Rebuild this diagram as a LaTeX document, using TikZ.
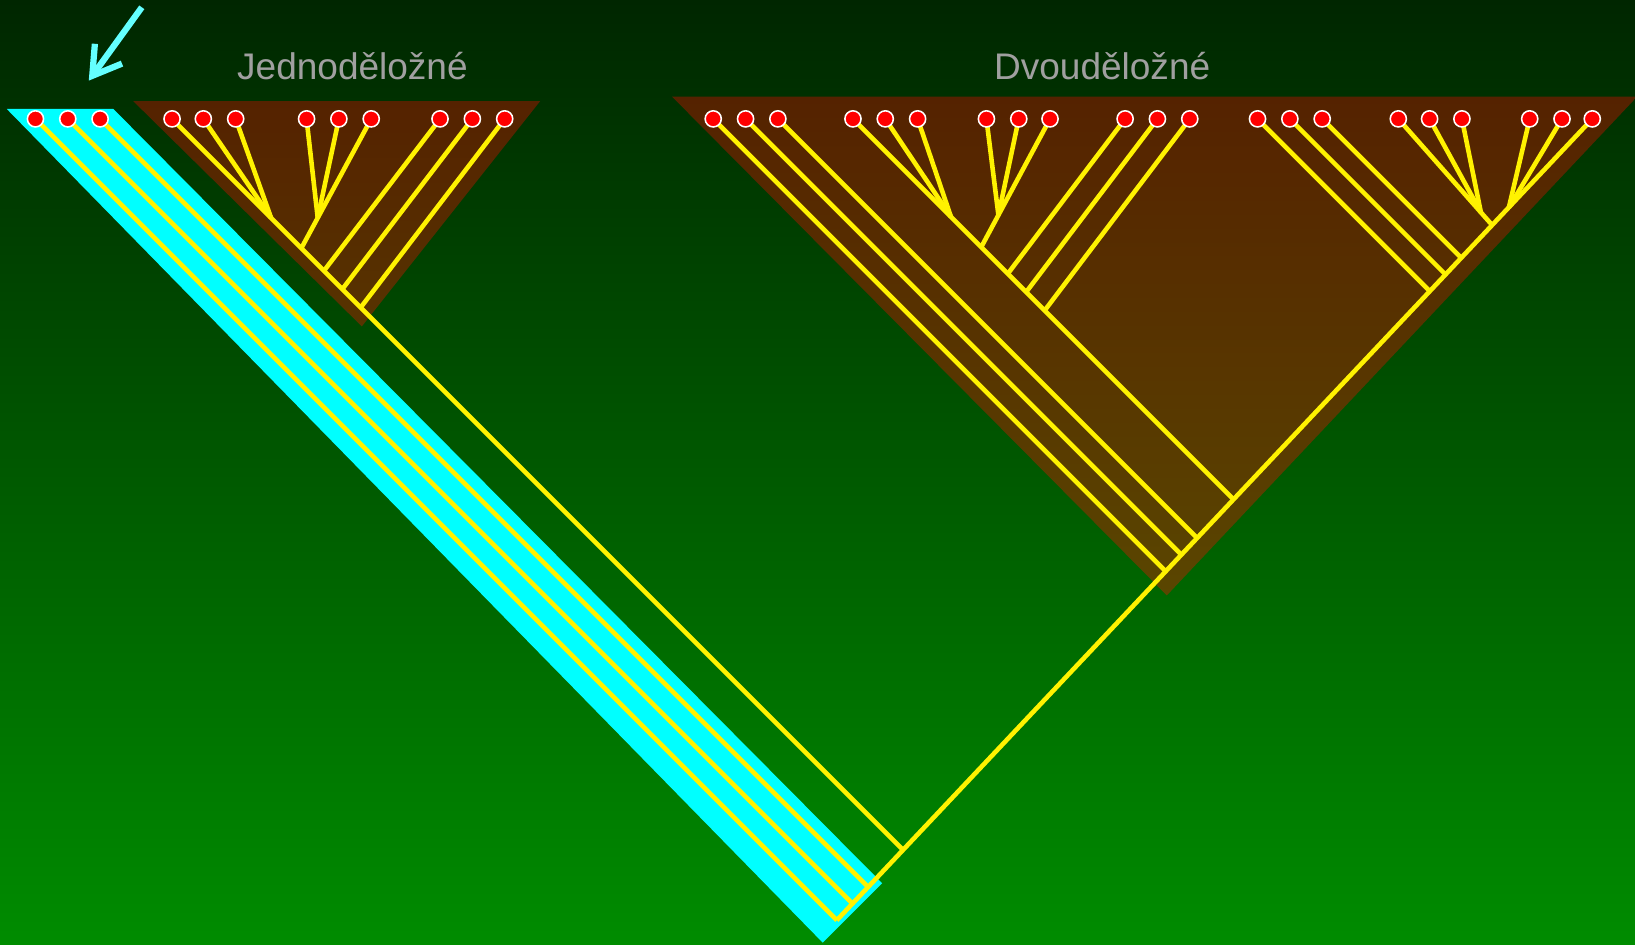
\documentclass[tikz,border=0pt]{standalone}
\usepackage{fontspec}
\setmainfont{Liberation Sans}
\definecolor{bgtop}{RGB}{0,38,0}
\definecolor{bgbot}{RGB}{0,140,0}
\definecolor{browntop}{RGB}{85,34,0}
\definecolor{brownjbot}{RGB}{87,52,0}
\definecolor{browndbot}{RGB}{90,70,0}
\definecolor{cladecyan}{RGB}{0,255,255}
\definecolor{arrowcyan}{RGB}{100,255,255}
\definecolor{labelgray}{RGB}{160,160,160}
\begin{document}
\begin{tikzpicture}[x=1pt,y=-1pt,
  branch/.style={draw=yellow, line width=4.4pt},
  leaf/.style={circle, fill=red, draw=white, line width=1.5pt, minimum size=15.5pt, inner sep=0pt},
  cladetxt/.style={text=labelgray, font=\fontsize{35.5}{40}\selectfont, anchor=base},
  pointer/.style={draw=arrowcyan, line width=6pt}]
\useasboundingbox (0,0) rectangle (1568,906);
\shade[top color=bgtop, bottom color=bgbot] (0,0) rectangle (1568,906);

% clade backgrounds
\fill[cladecyan] (6.5,104.5) -- (108.7,104.5) -- (846,847) -- (789,904) -- cycle;
\shade[top color=browntop, bottom color=brownjbot] (127.8,97) -- (518,97) -- (347,313) -- cycle;
\shade[top color=browntop, bottom color=browndbot] (644.5,92.7) -- (1570,92.7) -- (1119,571) -- cycle;

% leaf positions
\foreach \i/\x in {1/34,2/65,3/96}{\coordinate (c\i) at (\x,114);}
\foreach \i/\x in {1/165,2/195,3/226,4/294,5/325,6/356,7/422,8/453,9/484}{\coordinate (j\i) at (\x,114);}
\foreach \i/\x in {1/684,2/715,3/746,4/818,5/849,6/880,7/946,8/977,9/1007,10/1079,11/1110,12/1141,13/1206,14/1237,15/1268,16/1341,17/1371,18/1402,19/1467,20/1498,21/1527}{\coordinate (d\i) at (\x,114);}

% junctions
\coordinate (root) at (802.5,882.5);
\coordinate (kc2) at (817.5,866.5);
\coordinate (kc3) at (832.6,850.6);
\coordinate (kj) at (866.1,815.1);
\coordinate (kd1) at (1117.9,547.9);
\coordinate (kd2) at (1133.0,532.0);
\coordinate (kd3) at (1148.0,516.0);
\coordinate (kd4) at (1183.0,479.0);
\coordinate (kd13) at (1371.2,279.2);
\coordinate (kd14) at (1386.3,263.3);
\coordinate (kd15) at (1401.3,247.3);
\coordinate (kd16) at (1431,215.9);
\coordinate (g6) at (1420.2,203.7);
\coordinate (g7) at (1447,199.1);
\coordinate (g1j) at (260,209);
\coordinate (kj2) at (289,238);
\coordinate (g2j) at (304.7,208.9);
\coordinate (kj7) at (310.7,259.7);
\coordinate (kj8) at (328.3,277.3);
\coordinate (kj9) at (345.9,294.9);
\coordinate (g1d) at (912,208);
\coordinate (kd9) at (941,237);
\coordinate (g3d) at (957.5,206.25);
\coordinate (kd10) at (966.5,262.5);
\coordinate (kd11) at (984.1,280.1);
\coordinate (kd12) at (1001.8,297.8);

% branches
\draw[branch] (root) -- (d21);
\draw[branch] (c1) -- (root);
\draw[branch] (c2) -- (kc2);
\draw[branch] (c3) -- (kc3);
\draw[branch] (j1) -- (kj);
\draw[branch] (j2) -- (g1j);
\draw[branch] (j3) -- (g1j);
\draw[branch] (j6) -- (kj2);
\draw[branch] (j4) -- (g2j);
\draw[branch] (j5) -- (g2j);
\draw[branch] (j7) -- (kj7);
\draw[branch] (j8) -- (kj8);
\draw[branch] (j9) -- (kj9);
\draw[branch] (d1) -- (kd1);
\draw[branch] (d2) -- (kd2);
\draw[branch] (d3) -- (kd3);
\draw[branch] (d4) -- (kd4);
\draw[branch] (d5) -- (g1d);
\draw[branch] (d6) -- (g1d);
\draw[branch] (d9) -- (kd9);
\draw[branch] (d7) -- (g3d);
\draw[branch] (d8) -- (g3d);
\draw[branch] (d10) -- (kd10);
\draw[branch] (d11) -- (kd11);
\draw[branch] (d12) -- (kd12);
\draw[branch] (d13) -- (kd13);
\draw[branch] (d14) -- (kd14);
\draw[branch] (d15) -- (kd15);
\draw[branch] (d16) -- (kd16);
\draw[branch] (d17) -- (g6);
\draw[branch] (d18) -- (g6);
\draw[branch] (d19) -- (g7);
\draw[branch] (d20) -- (g7);

% leaves
\foreach \i in {1,2,3}{\node[leaf] (cn\i) at (c\i) {};}
\foreach \i in {1,...,9}{\node[leaf] (jn\i) at (j\i) {};}
\foreach \i in {1,...,21}{\node[leaf] (dn\i) at (d\i) {};}

% pointer arrow
\coordinate (atail) at (136,7);
\coordinate (atip) at (88.5,72.7);
\coordinate (awing1) at (91,42);
\coordinate (awing2) at (117,61);
\draw[pointer] (atail) -- (atip);
\draw[pointer, line join=miter] (awing1) -- (atip) -- (awing2);

% labels
\node[cladetxt] (jlab) at (338,76) {Jednoděložné};
\node[cladetxt] (dlab) at (1057,76) {Dvouděložné};
\end{tikzpicture}
\end{document}
